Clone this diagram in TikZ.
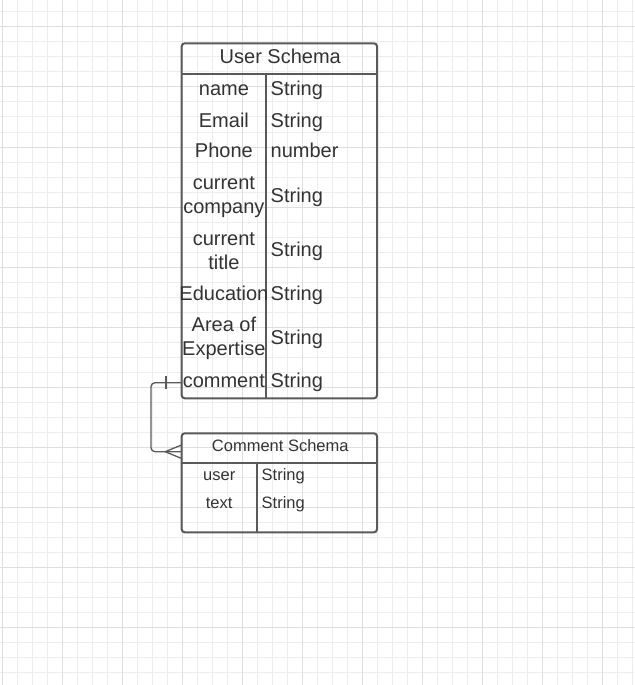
\documentclass[tikz,border=0pt]{standalone}
\usepackage{fontspec}
\setmainfont{Liberation Sans}
\usetikzlibrary{positioning}
\definecolor{edge}{HTML}{5A5A5A}
\definecolor{ink}{HTML}{333333}
\definecolor{minorgrid}{HTML}{EDEDED}
\definecolor{majorgrid}{HTML}{DEDEDE}

\begin{document}
\begin{tikzpicture}[x=1bp,y=-1bp,
  table/.style={draw=edge,line width=2bp,rounded corners=3bp,inner sep=0pt,outer sep=0pt,anchor=north west},
  rule/.style={draw=edge,line width=2bp},
  big/.style={font=\fontsize{20bp}{23.5bp}\selectfont,text=ink,inner sep=0pt,anchor=base,yshift=-0.8bp},
  small/.style={font=\fontsize{16.5bp}{20bp}\selectfont,text=ink,inner sep=0pt,anchor=base,yshift=-0.6bp},
  kind/.style={anchor=base west},
  link/.style={draw=edge,line width=1.3bp,rounded corners=4bp},
  bar/.style={draw=edge,line width=1.3bp}]
  \useasboundingbox (0,0) rectangle (635,685);
  \foreach \x in {2,17,...,632} \draw[minorgrid,line width=1bp] (\x,0) -- (\x,685);
  \foreach \y in {12,27,...,682} \draw[minorgrid,line width=1bp] (0,\y) -- (635,\y);
  \foreach \x in {2,62,...,602} \draw[majorgrid,line width=1bp] (\x,0) -- (\x,685);
  \foreach \y in {27,87,...,627} \draw[majorgrid,line width=1bp] (0,\y) -- (635,\y);

  \node[table,minimum width=195.3bp,minimum height=355bp] (user) at (181.7,43.3) {};
  \draw[rule] ([yshift=-30.4bp]user.north west) -- ([yshift=-30.4bp]user.north east);
  \draw[rule] (266,73.7) -- (266,398.3);
  \node[big] (uhead) at (280.3,62.3) {User Schema};
  \node[big] (uname) at (223.9,94.3) {name};
  \node[big] (uemail) at (223.9,126.5) {Email};
  \node[big] (uphone) at (223.9,157) {Phone};
  \node[big,align=center] (ucompany) at (223.9,212.3) {current\\company};
  \node[big,align=center] (utitle) at (223.9,268.3) {current\\title};
  \node[big] (uedu) at (223.9,299.3) {Education};
  \node[big,align=center] (uarea) at (223.9,354.3) {Area of\\Expertise};
  \node[big] (ucomment) at (223.9,386.7) {comment};
  \node[big,kind] (tname) at (270.5,94.3) {String};
  \node[big,kind] (temail) at (270.5,126.5) {String};
  \node[big,kind] (tphone) at (270.5,157) {number};
  \node[big,kind] (tcompany) at (270.5,201.7) {String};
  \node[big,kind] (ttitle) at (270.5,256) {String};
  \node[big,kind] (tedu) at (270.5,299.3) {String};
  \node[big,kind] (tarea) at (270.5,343.3) {String};
  \node[big,kind] (tcomment) at (270.5,386.7) {String};

  \node[table,minimum width=195.3bp,minimum height=99bp] (comm) at (181.7,433.3) {};
  \draw[rule] ([yshift=-29.4bp]comm.north west) -- ([yshift=-29.4bp]comm.north east);
  \draw[rule] (256.7,462.7) -- (256.7,532.3);
  \node[small] (chead) at (280.3,451) {Comment Schema};
  \node[small] (cuser) at (219.2,480) {user};
  \node[small] (ctext) at (219.2,508.3) {text};
  \node[small,kind] (tuser) at (261.5,480) {String};
  \node[small,kind] (ttext) at (261.5,508.3) {String};

  \coordinate (from) at (user.west |- 0,382.7);
  \coordinate (to) at (comm.west |- 0,451.7);
  \draw[link] (from) -| ([xshift=-30.7bp]to) -- (to);
  \draw[bar] ([xshift=-15.7bp,yshift=6.7bp]from) -- ([xshift=-15.7bp,yshift=-6.7bp]from);
  \draw[bar] ([xshift=-16.5bp]to) -- ([yshift=6.8bp]to)
             ([xshift=-16.5bp]to) -- ([yshift=-6.8bp]to);
\end{tikzpicture}
\end{document}
